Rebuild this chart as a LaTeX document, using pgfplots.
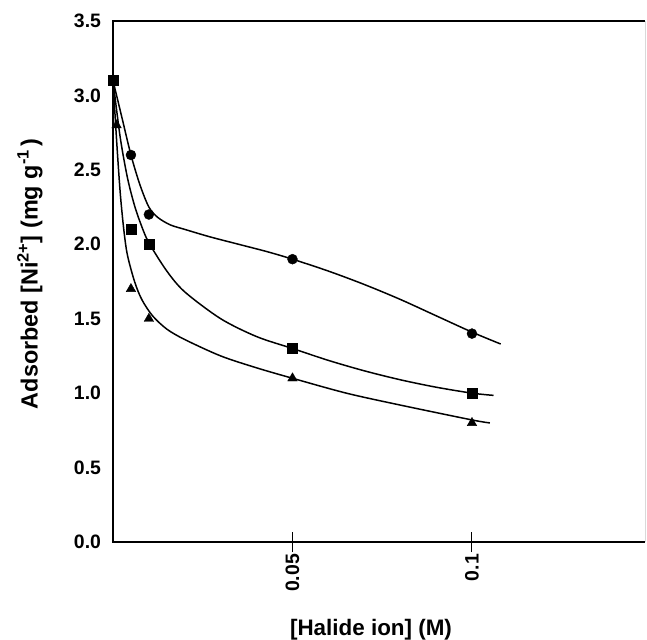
\documentclass[border=0pt]{standalone}
\usepackage{pgfplots}
\pgfplotsset{compat=1.18}
\usepackage{fontspec}
\setmainfont{Liberation Sans}
\begin{document}
\begin{tikzpicture}
\useasboundingbox (-113bp,-98bp) rectangle (534bp,521bp+21bp);
\begin{axis}[
  at={(0,0)}, anchor=south west,
  scale only axis, width=532bp, height=521bp,
  xmin=0, xmax=0.1482, ymin=0, ymax=3.5,
  axis line style={draw=none},
  xtick={0.05,0.1}, xticklabels={0.05,0.1},
  ytick={0,0.5,1,1.5,2,2.5,3,3.5},
  yticklabel style={/pgf/number format/.cd,fixed,fixed zerofill,precision=1},
  /pgf/number format/assume math mode=true,
  tick label style={font=\fontsize{19.5}{22}\selectfont\bfseries},
  xticklabel style={rotate=90, anchor=east},
  x tick style={line width=1pt, black},
  y tick style={draw=none},
  xtick pos=bottom, ytick pos=left,
  tick align=center, major tick length=20bp,
  xticklabel shift=-1.5bp, yticklabel shift=-1.5bp,
  xlabel={[Halide ion] (M)},
  ylabel={Adsorbed [Ni\textsuperscript{2+}] (mg g\textsuperscript{-1}\,)},
  every axis x label/.style={at={(axis description cs:0.485,-0.169)}, anchor=center, font=\fontsize{22.5}{26}\selectfont\bfseries},
  every axis y label/.style={at={(axis description cs:-0.156,0.515)}, rotate=90, anchor=center, font=\fontsize{23.5}{27}\selectfont\bfseries},
  clip=false,
]
% fitted curves
\addplot[black, line width=1.5pt, smooth, tension=0.5] coordinates {
(0,3.1) (0.0025,2.85) (0.005,2.6) (0.0075,2.4) (0.01,2.25) (0.0125,2.18) (0.016,2.13) (0.02,2.1)
(0.027,2.05) (0.035,2.0) (0.043,1.95) (0.05,1.9) (0.06,1.82) (0.07,1.73) (0.08,1.63) (0.09,1.52)
(0.1,1.41) (0.108,1.33)};
\addplot[black, line width=1.5pt, smooth, tension=0.5] coordinates {
(0,3.1) (0.002,2.72) (0.004,2.45) (0.006,2.26) (0.008,2.12) (0.01,2.01) (0.015,1.82) (0.02,1.68)
(0.03,1.5) (0.04,1.38) (0.05,1.30) (0.06,1.22) (0.07,1.15) (0.08,1.09) (0.09,1.04)
(0.1,1.0) (0.106,0.985)};
\addplot[black, line width=1.5pt, smooth, tension=0.5] coordinates {
(0,3.1) (0.001,2.7) (0.002,2.35) (0.003,2.1) (0.004,1.93) (0.006,1.75) (0.008,1.63) (0.011,1.52)
(0.015,1.43) (0.02,1.36) (0.03,1.25) (0.04,1.17) (0.05,1.1) (0.065,1.0) (0.08,0.92) (0.1,0.82)
(0.105,0.80)};
% data points
\addplot[only marks, mark=*, mark size=5bp, black] coordinates {
(0.005,2.6) (0.01,2.2) (0.05,1.9) (0.1,1.4)};
\addplot[only marks, mark=triangle*, mark size=5.5bp, black] coordinates {
(0.001,2.8) (0.005,1.7) (0.01,1.5) (0.05,1.1) (0.1,0.8)};
\addplot[only marks, mark=square*, mark size=5bp, black] coordinates {
(0,3.1) (0.005,2.1) (0.01,2.0) (0.05,1.3) (0.1,1.0)};
% frame
\draw[black, line width=2pt] (rel axis cs:1,1) -- (rel axis cs:0,1) -- (rel axis cs:0,0) -- (rel axis cs:1,0);
\draw[black!15, line width=1pt] (rel axis cs:1,0) -- (rel axis cs:1,1);
\end{axis}
\end{tikzpicture}
\end{document}
